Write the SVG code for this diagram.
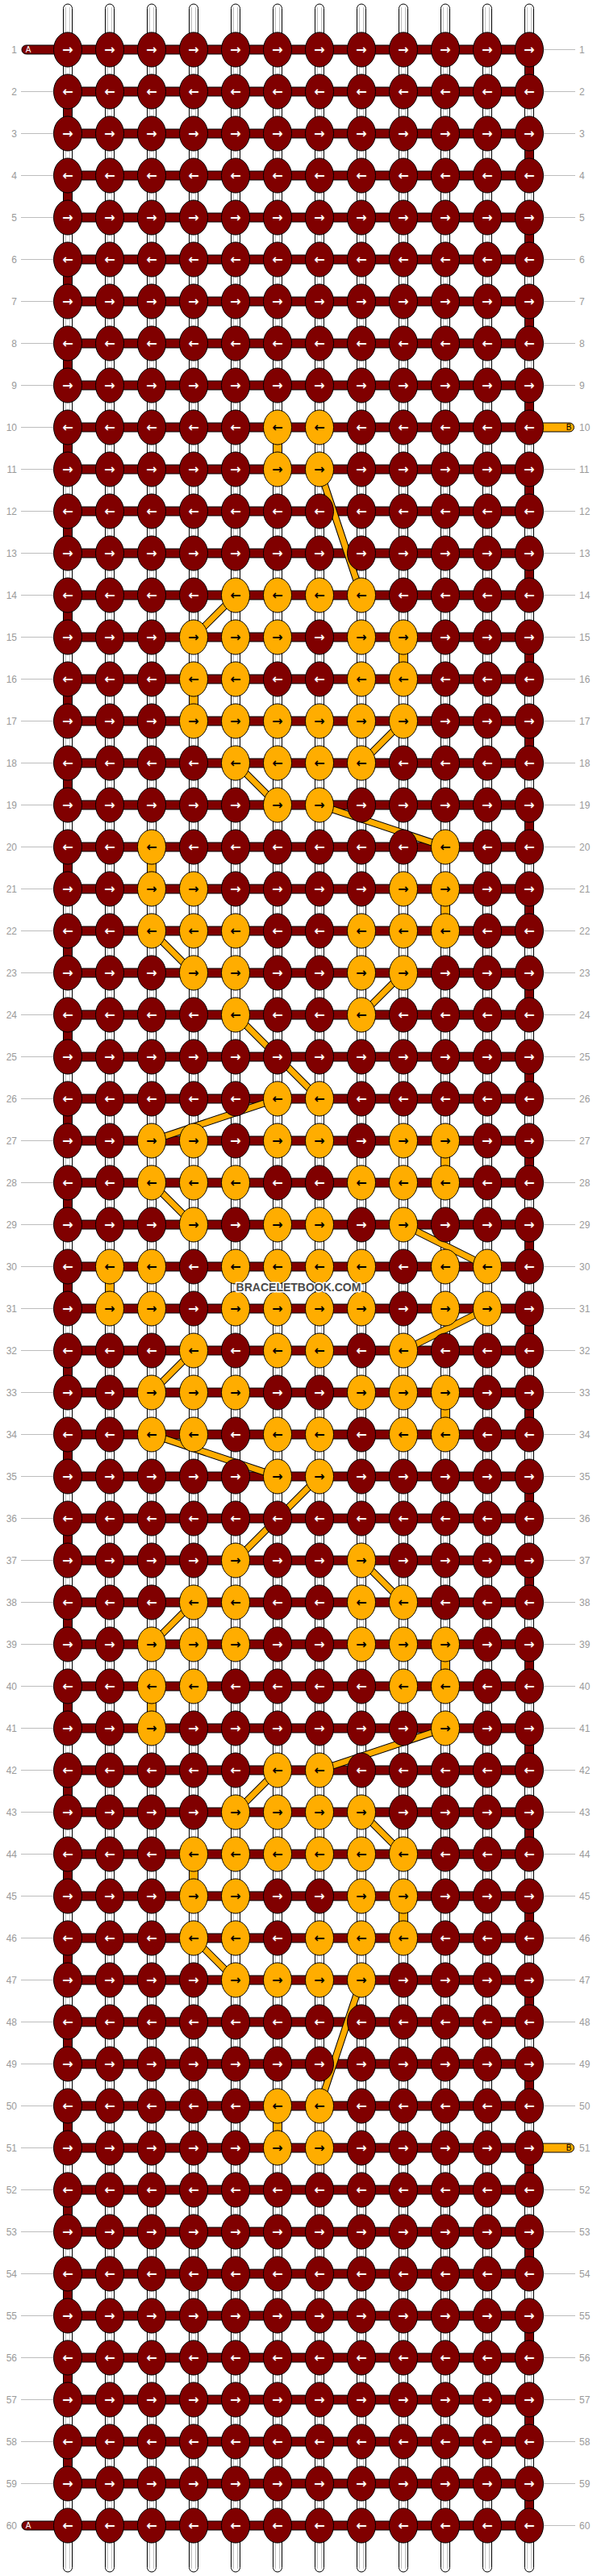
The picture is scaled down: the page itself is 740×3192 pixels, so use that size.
<svg xmlns="http://www.w3.org/2000/svg" width="740" height="3192" viewBox="0 0 740 3192">
<style>
.n{font-family:"Liberation Sans",Arial,sans-serif;font-size:12px;fill:#9a9a9a}
.nl{text-anchor:end}
.g{stroke:#bdbdbd;stroke-width:1;fill:none}
.st{fill:#fff;stroke:#000;stroke-width:1}
.il{stroke:#c4c4c4;stroke-width:1;fill:none}
.red{fill:#800000;stroke:#000;stroke-width:1}
.yel{fill:#ffad00;stroke:#000;stroke-width:1}
.lab{font-family:"Liberation Sans",Arial,sans-serif;font-size:10px;text-anchor:middle}
</style>
<defs>
<g id="a"><ellipse rx="17.5" ry="21.5" fill="#800000" stroke="#000"/><text y="5.5" fill="#fff" font-family="DejaVu Sans,sans-serif" font-size="16" font-weight="bold" text-anchor="middle">→</text></g>
<g id="b"><ellipse rx="17.5" ry="21.5" fill="#800000" stroke="#000"/><text y="5.5" fill="#fff" font-family="DejaVu Sans,sans-serif" font-size="16" font-weight="bold" text-anchor="middle">←</text></g>
<g id="c"><ellipse rx="17.5" ry="21.5" fill="#ffad00" stroke="#000"/><text y="5.5" fill="#000" font-family="DejaVu Sans,sans-serif" font-size="16" font-weight="bold" text-anchor="middle">→</text></g>
<g id="d"><ellipse rx="17.5" ry="21.5" fill="#ffad00" stroke="#000"/><text y="5.5" fill="#000" font-family="DejaVu Sans,sans-serif" font-size="16" font-weight="bold" text-anchor="middle">←</text></g>
</defs>
<rect width="740" height="3192" fill="#fff"/>
<g id="strings">
<rect class="st" x="78.5" y="5" width="11" height="3182" rx="5.5"/>
<rect class="st" x="130.5" y="5" width="11" height="3182" rx="5.5"/>
<rect class="st" x="182.5" y="5" width="11" height="3182" rx="5.5"/>
<rect class="st" x="234.5" y="5" width="11" height="3182" rx="5.5"/>
<rect class="st" x="286.5" y="5" width="11" height="3182" rx="5.5"/>
<rect class="st" x="338.5" y="5" width="11" height="3182" rx="5.5"/>
<rect class="st" x="390.5" y="5" width="11" height="3182" rx="5.5"/>
<rect class="st" x="442.5" y="5" width="11" height="3182" rx="5.5"/>
<rect class="st" x="494.5" y="5" width="11" height="3182" rx="5.5"/>
<rect class="st" x="546.5" y="5" width="11" height="3182" rx="5.5"/>
<rect class="st" x="598.5" y="5" width="11" height="3182" rx="5.5"/>
<rect class="st" x="650.5" y="5" width="11" height="3182" rx="5.5"/>
<path class="il" d="M81.5 9V3183M86.5 9V3183M133.5 9V3183M138.5 9V3183M185.5 9V3183M190.5 9V3183M237.5 9V3183M242.5 9V3183M289.5 9V3183M294.5 9V3183M341.5 9V3183M346.5 9V3183M393.5 9V3183M398.5 9V3183M445.5 9V3183M450.5 9V3183M497.5 9V3183M502.5 9V3183M549.5 9V3183M554.5 9V3183M601.5 9V3183M606.5 9V3183M653.5 9V3183M658.5 9V3183"/>
</g>
<g id="connectors">
<path class="red" d="M650.5 61.5h11v52h-11zM650.5 165.5h11v52h-11zM650.5 269.5h11v52h-11zM650.5 373.5h11v52h-11zM650.5 477.5h11v52h-11zM650.5 581.5h11v52h-11zM650.5 685.5h11v52h-11zM650.5 789.5h11v52h-11zM650.5 893.5h11v52h-11zM650.5 997.5h11v52h-11zM650.5 1101.5h11v52h-11zM650.5 1205.5h11v52h-11zM650.5 1309.5h11v52h-11zM650.5 1413.5h11v52h-11zM650.5 1517.5h11v52h-11zM650.5 1621.5h11v52h-11zM650.5 1725.5h11v52h-11zM650.5 1829.5h11v52h-11zM650.5 1933.5h11v52h-11zM650.5 2037.5h11v52h-11zM650.5 2141.5h11v52h-11zM650.5 2245.5h11v52h-11zM650.5 2349.5h11v52h-11zM650.5 2453.5h11v52h-11zM650.5 2557.5h11v52h-11zM650.5 2661.5h11v52h-11zM650.5 2765.5h11v52h-11zM650.5 2869.5h11v52h-11zM650.5 2973.5h11v52h-11zM650.5 3077.5h11v52h-11zM78.5 113.5h11v52h-11zM78.5 217.5h11v52h-11zM78.5 321.5h11v52h-11zM78.5 425.5h11v52h-11zM78.5 529.5h11v52h-11zM78.5 633.5h11v52h-11zM78.5 737.5h11v52h-11zM78.5 841.5h11v52h-11zM78.5 945.5h11v52h-11zM78.5 1049.5h11v52h-11zM78.5 1153.5h11v52h-11zM78.5 1257.5h11v52h-11zM78.5 1361.5h11v52h-11zM78.5 1465.5h11v52h-11zM78.5 1569.5h11v52h-11zM78.5 1673.5h11v52h-11zM78.5 1777.5h11v52h-11zM78.5 1881.5h11v52h-11zM78.5 1985.5h11v52h-11zM78.5 2089.5h11v52h-11zM78.5 2193.5h11v52h-11zM78.5 2297.5h11v52h-11zM78.5 2401.5h11v52h-11zM78.5 2505.5h11v52h-11zM78.5 2609.5h11v52h-11zM78.5 2713.5h11v52h-11zM78.5 2817.5h11v52h-11zM78.5 2921.5h11v52h-11zM78.5 3025.5h11v52h-11z"/>
<path class="yel" d="M338.5 529.5h11v52h-11zM494.5 789.5h11v52h-11zM234.5 841.5h11v52h-11zM182.5 1049.5h11v52h-11zM546.5 1101.5h11v52h-11zM546.5 1413.5h11v52h-11zM130.5 1569.5h11v52h-11zM546.5 1725.5h11v52h-11zM546.5 2037.5h11v52h-11zM182.5 2089.5h11v52h-11zM234.5 2297.5h11v52h-11zM494.5 2349.5h11v52h-11zM338.5 2609.5h11v52h-11z"/>
<rect class="red" x="27" y="56" width="70" height="11" rx="5.5"/>
<rect class="red" x="27" y="3124" width="70" height="11" rx="5.5"/>
<path class="red" d="M84 56h572v11H84zM84 108h572v11H84zM84 160h572v11H84zM84 212h572v11H84zM84 264h572v11H84zM84 316h572v11H84zM84 368h572v11H84zM84 420h572v11H84zM84 472h572v11H84zM84 524h572v11H84zM84 576h572v11H84zM84 628h572v11H84zM84 680h572v11H84zM84 732h572v11H84zM84 784h572v11H84zM84 836h572v11H84zM84 888h572v11H84zM84 940h572v11H84zM84 992h572v11H84zM84 1044h572v11H84zM84 1096h572v11H84zM84 1148h572v11H84zM84 1200h572v11H84zM84 1252h572v11H84zM84 1304h572v11H84zM84 1356h572v11H84zM84 1408h572v11H84zM84 1460h572v11H84zM84 1512h572v11H84zM84 1564h572v11H84zM84 1616h572v11H84zM84 1668h572v11H84zM84 1720h572v11H84zM84 1772h572v11H84zM84 1824h572v11H84zM84 1876h572v11H84zM84 1928h572v11H84zM84 1980h572v11H84zM84 2032h572v11H84zM84 2084h572v11H84zM84 2136h572v11H84zM84 2188h572v11H84zM84 2240h572v11H84zM84 2292h572v11H84zM84 2344h572v11H84zM84 2396h572v11H84zM84 2448h572v11H84zM84 2500h572v11H84zM84 2552h572v11H84zM84 2604h572v11H84zM84 2656h572v11H84zM84 2708h572v11H84zM84 2760h572v11H84zM84 2812h572v11H84zM84 2864h572v11H84zM84 2916h572v11H84zM84 2968h572v11H84zM84 3020h572v11H84zM84 3072h572v11H84zM84 3124h572v11H84z"/>
<rect class="yel" x="645" y="524" width="66.5" height="11" rx="5.5"/>
<rect class="yel" x="645" y="2656" width="66.5" height="11" rx="5.5"/>
<path fill="none" stroke="#000" stroke-width="9" d="M396 581.5L448 737.5M292 737.5L240 789.5M500 893.5L448 945.5M292 945.5L344 997.5M396 997.5L552 1049.5M188 1153.5L240 1205.5M500 1205.5L448 1257.5M292 1257.5L396 1361.5M344 1361.5L188 1413.5M188 1465.5L240 1517.5M500 1517.5L604 1569.5M604 1621.5L500 1673.5M240 1673.5L188 1725.5M188 1777.5L344 1829.5M396 1829.5L292 1933.5M448 1933.5L500 1985.5M240 1985.5L188 2037.5M552 2141.5L396 2193.5M344 2193.5L292 2245.5M448 2245.5L500 2297.5M240 2401.5L292 2453.5M448 2453.5L396 2609.5"/>
<path fill="none" stroke="#ffad00" stroke-width="7" d="M396 581.5L448 737.5M292 737.5L240 789.5M500 893.5L448 945.5M292 945.5L344 997.5M396 997.5L552 1049.5M188 1153.5L240 1205.5M500 1205.5L448 1257.5M292 1257.5L396 1361.5M344 1361.5L188 1413.5M188 1465.5L240 1517.5M500 1517.5L604 1569.5M604 1621.5L500 1673.5M240 1673.5L188 1725.5M188 1777.5L344 1829.5M396 1829.5L292 1933.5M448 1933.5L500 1985.5M240 1985.5L188 2037.5M552 2141.5L396 2193.5M344 2193.5L292 2245.5M448 2245.5L500 2297.5M240 2401.5L292 2453.5M448 2453.5L396 2609.5"/>
<path class="g" d="M26 113.5H66M26 165.5H66M26 217.5H66M26 269.5H66M26 321.5H66M26 373.5H66M26 425.5H66M26 477.5H66M26 529.5H66M26 581.5H66M26 633.5H66M26 685.5H66M26 737.5H66M26 789.5H66M26 841.5H66M26 893.5H66M26 945.5H66M26 997.5H66M26 1049.5H66M26 1101.5H66M26 1153.5H66M26 1205.5H66M26 1257.5H66M26 1309.5H66M26 1361.5H66M26 1413.5H66M26 1465.5H66M26 1517.5H66M26 1569.5H66M26 1621.5H66M26 1673.5H66M26 1725.5H66M26 1777.5H66M26 1829.5H66M26 1881.5H66M26 1933.5H66M26 1985.5H66M26 2037.5H66M26 2089.5H66M26 2141.5H66M26 2193.5H66M26 2245.5H66M26 2297.5H66M26 2349.5H66M26 2401.5H66M26 2453.5H66M26 2505.5H66M26 2557.5H66M26 2609.5H66M26 2661.5H66M26 2713.5H66M26 2765.5H66M26 2817.5H66M26 2869.5H66M26 2921.5H66M26 2973.5H66M26 3025.5H66M26 3077.5H66M674 61.5H713M674 113.5H713M674 165.5H713M674 217.5H713M674 269.5H713M674 321.5H713M674 373.5H713M674 425.5H713M674 477.5H713M674 581.5H713M674 633.5H713M674 685.5H713M674 737.5H713M674 789.5H713M674 841.5H713M674 893.5H713M674 945.5H713M674 997.5H713M674 1049.5H713M674 1101.5H713M674 1153.5H713M674 1205.5H713M674 1257.5H713M674 1309.5H713M674 1361.5H713M674 1413.5H713M674 1465.5H713M674 1517.5H713M674 1569.5H713M674 1621.5H713M674 1673.5H713M674 1725.5H713M674 1777.5H713M674 1829.5H713M674 1881.5H713M674 1933.5H713M674 1985.5H713M674 2037.5H713M674 2089.5H713M674 2141.5H713M674 2193.5H713M674 2245.5H713M674 2297.5H713M674 2349.5H713M674 2401.5H713M674 2453.5H713M674 2505.5H713M674 2557.5H713M674 2609.5H713M674 2713.5H713M674 2765.5H713M674 2817.5H713M674 2869.5H713M674 2921.5H713M674 2973.5H713M674 3025.5H713M674 3077.5H713M674 3129.5H713"/>
</g>
<g id="ends">
<text class="lab" x="35" y="65" fill="#fff">A</text>
<text class="lab" x="35" y="3133" fill="#fff">A</text>
<text class="lab" x="705" y="533" fill="#000">B</text>
<text class="lab" x="705" y="2665" fill="#000">B</text>
</g>
<g id="knots">
<g id="row1" transform="translate(0 61.5)"><use href="#a" x="84"/><use href="#a" x="136"/><use href="#a" x="188"/><use href="#a" x="240"/><use href="#a" x="292"/><use href="#a" x="344"/><use href="#a" x="396"/><use href="#a" x="448"/><use href="#a" x="500"/><use href="#a" x="552"/><use href="#a" x="604"/><use href="#a" x="656"/></g>
<g id="row2" transform="translate(0 113.5)"><use href="#b" x="84"/><use href="#b" x="136"/><use href="#b" x="188"/><use href="#b" x="240"/><use href="#b" x="292"/><use href="#b" x="344"/><use href="#b" x="396"/><use href="#b" x="448"/><use href="#b" x="500"/><use href="#b" x="552"/><use href="#b" x="604"/><use href="#b" x="656"/></g>
<g id="row3" transform="translate(0 165.5)"><use href="#a" x="84"/><use href="#a" x="136"/><use href="#a" x="188"/><use href="#a" x="240"/><use href="#a" x="292"/><use href="#a" x="344"/><use href="#a" x="396"/><use href="#a" x="448"/><use href="#a" x="500"/><use href="#a" x="552"/><use href="#a" x="604"/><use href="#a" x="656"/></g>
<g id="row4" transform="translate(0 217.5)"><use href="#b" x="84"/><use href="#b" x="136"/><use href="#b" x="188"/><use href="#b" x="240"/><use href="#b" x="292"/><use href="#b" x="344"/><use href="#b" x="396"/><use href="#b" x="448"/><use href="#b" x="500"/><use href="#b" x="552"/><use href="#b" x="604"/><use href="#b" x="656"/></g>
<g id="row5" transform="translate(0 269.5)"><use href="#a" x="84"/><use href="#a" x="136"/><use href="#a" x="188"/><use href="#a" x="240"/><use href="#a" x="292"/><use href="#a" x="344"/><use href="#a" x="396"/><use href="#a" x="448"/><use href="#a" x="500"/><use href="#a" x="552"/><use href="#a" x="604"/><use href="#a" x="656"/></g>
<g id="row6" transform="translate(0 321.5)"><use href="#b" x="84"/><use href="#b" x="136"/><use href="#b" x="188"/><use href="#b" x="240"/><use href="#b" x="292"/><use href="#b" x="344"/><use href="#b" x="396"/><use href="#b" x="448"/><use href="#b" x="500"/><use href="#b" x="552"/><use href="#b" x="604"/><use href="#b" x="656"/></g>
<g id="row7" transform="translate(0 373.5)"><use href="#a" x="84"/><use href="#a" x="136"/><use href="#a" x="188"/><use href="#a" x="240"/><use href="#a" x="292"/><use href="#a" x="344"/><use href="#a" x="396"/><use href="#a" x="448"/><use href="#a" x="500"/><use href="#a" x="552"/><use href="#a" x="604"/><use href="#a" x="656"/></g>
<g id="row8" transform="translate(0 425.5)"><use href="#b" x="84"/><use href="#b" x="136"/><use href="#b" x="188"/><use href="#b" x="240"/><use href="#b" x="292"/><use href="#b" x="344"/><use href="#b" x="396"/><use href="#b" x="448"/><use href="#b" x="500"/><use href="#b" x="552"/><use href="#b" x="604"/><use href="#b" x="656"/></g>
<g id="row9" transform="translate(0 477.5)"><use href="#a" x="84"/><use href="#a" x="136"/><use href="#a" x="188"/><use href="#a" x="240"/><use href="#a" x="292"/><use href="#a" x="344"/><use href="#a" x="396"/><use href="#a" x="448"/><use href="#a" x="500"/><use href="#a" x="552"/><use href="#a" x="604"/><use href="#a" x="656"/></g>
<g id="row10" transform="translate(0 529.5)"><use href="#b" x="84"/><use href="#b" x="136"/><use href="#b" x="188"/><use href="#b" x="240"/><use href="#b" x="292"/><use href="#d" x="344"/><use href="#d" x="396"/><use href="#b" x="448"/><use href="#b" x="500"/><use href="#b" x="552"/><use href="#b" x="604"/><use href="#b" x="656"/></g>
<g id="row11" transform="translate(0 581.5)"><use href="#a" x="84"/><use href="#a" x="136"/><use href="#a" x="188"/><use href="#a" x="240"/><use href="#a" x="292"/><use href="#c" x="344"/><use href="#c" x="396"/><use href="#a" x="448"/><use href="#a" x="500"/><use href="#a" x="552"/><use href="#a" x="604"/><use href="#a" x="656"/></g>
<g id="row12" transform="translate(0 633.5)"><use href="#b" x="84"/><use href="#b" x="136"/><use href="#b" x="188"/><use href="#b" x="240"/><use href="#b" x="292"/><use href="#b" x="344"/><use href="#b" x="396"/><use href="#b" x="448"/><use href="#b" x="500"/><use href="#b" x="552"/><use href="#b" x="604"/><use href="#b" x="656"/></g>
<g id="row13" transform="translate(0 685.5)"><use href="#a" x="84"/><use href="#a" x="136"/><use href="#a" x="188"/><use href="#a" x="240"/><use href="#a" x="292"/><use href="#a" x="344"/><use href="#a" x="396"/><use href="#a" x="448"/><use href="#a" x="500"/><use href="#a" x="552"/><use href="#a" x="604"/><use href="#a" x="656"/></g>
<g id="row14" transform="translate(0 737.5)"><use href="#b" x="84"/><use href="#b" x="136"/><use href="#b" x="188"/><use href="#b" x="240"/><use href="#d" x="292"/><use href="#d" x="344"/><use href="#d" x="396"/><use href="#d" x="448"/><use href="#b" x="500"/><use href="#b" x="552"/><use href="#b" x="604"/><use href="#b" x="656"/></g>
<g id="row15" transform="translate(0 789.5)"><use href="#a" x="84"/><use href="#a" x="136"/><use href="#a" x="188"/><use href="#c" x="240"/><use href="#c" x="292"/><use href="#c" x="344"/><use href="#a" x="396"/><use href="#c" x="448"/><use href="#c" x="500"/><use href="#a" x="552"/><use href="#a" x="604"/><use href="#a" x="656"/></g>
<g id="row16" transform="translate(0 841.5)"><use href="#b" x="84"/><use href="#b" x="136"/><use href="#b" x="188"/><use href="#d" x="240"/><use href="#d" x="292"/><use href="#b" x="344"/><use href="#b" x="396"/><use href="#d" x="448"/><use href="#d" x="500"/><use href="#b" x="552"/><use href="#b" x="604"/><use href="#b" x="656"/></g>
<g id="row17" transform="translate(0 893.5)"><use href="#a" x="84"/><use href="#a" x="136"/><use href="#a" x="188"/><use href="#c" x="240"/><use href="#c" x="292"/><use href="#c" x="344"/><use href="#c" x="396"/><use href="#c" x="448"/><use href="#c" x="500"/><use href="#a" x="552"/><use href="#a" x="604"/><use href="#a" x="656"/></g>
<g id="row18" transform="translate(0 945.5)"><use href="#b" x="84"/><use href="#b" x="136"/><use href="#b" x="188"/><use href="#b" x="240"/><use href="#d" x="292"/><use href="#d" x="344"/><use href="#d" x="396"/><use href="#d" x="448"/><use href="#b" x="500"/><use href="#b" x="552"/><use href="#b" x="604"/><use href="#b" x="656"/></g>
<g id="row19" transform="translate(0 997.5)"><use href="#a" x="84"/><use href="#a" x="136"/><use href="#a" x="188"/><use href="#a" x="240"/><use href="#a" x="292"/><use href="#c" x="344"/><use href="#c" x="396"/><use href="#a" x="448"/><use href="#a" x="500"/><use href="#a" x="552"/><use href="#a" x="604"/><use href="#a" x="656"/></g>
<g id="row20" transform="translate(0 1049.5)"><use href="#b" x="84"/><use href="#b" x="136"/><use href="#d" x="188"/><use href="#b" x="240"/><use href="#b" x="292"/><use href="#b" x="344"/><use href="#b" x="396"/><use href="#b" x="448"/><use href="#b" x="500"/><use href="#d" x="552"/><use href="#b" x="604"/><use href="#b" x="656"/></g>
<g id="row21" transform="translate(0 1101.5)"><use href="#a" x="84"/><use href="#a" x="136"/><use href="#c" x="188"/><use href="#c" x="240"/><use href="#a" x="292"/><use href="#a" x="344"/><use href="#a" x="396"/><use href="#a" x="448"/><use href="#c" x="500"/><use href="#c" x="552"/><use href="#a" x="604"/><use href="#a" x="656"/></g>
<g id="row22" transform="translate(0 1153.5)"><use href="#b" x="84"/><use href="#b" x="136"/><use href="#d" x="188"/><use href="#d" x="240"/><use href="#d" x="292"/><use href="#b" x="344"/><use href="#b" x="396"/><use href="#d" x="448"/><use href="#d" x="500"/><use href="#d" x="552"/><use href="#b" x="604"/><use href="#b" x="656"/></g>
<g id="row23" transform="translate(0 1205.5)"><use href="#a" x="84"/><use href="#a" x="136"/><use href="#a" x="188"/><use href="#c" x="240"/><use href="#c" x="292"/><use href="#a" x="344"/><use href="#a" x="396"/><use href="#c" x="448"/><use href="#c" x="500"/><use href="#a" x="552"/><use href="#a" x="604"/><use href="#a" x="656"/></g>
<g id="row24" transform="translate(0 1257.5)"><use href="#b" x="84"/><use href="#b" x="136"/><use href="#b" x="188"/><use href="#b" x="240"/><use href="#d" x="292"/><use href="#b" x="344"/><use href="#b" x="396"/><use href="#d" x="448"/><use href="#b" x="500"/><use href="#b" x="552"/><use href="#b" x="604"/><use href="#b" x="656"/></g>
<g id="row25" transform="translate(0 1309.5)"><use href="#a" x="84"/><use href="#a" x="136"/><use href="#a" x="188"/><use href="#a" x="240"/><use href="#a" x="292"/><use href="#a" x="344"/><use href="#a" x="396"/><use href="#a" x="448"/><use href="#a" x="500"/><use href="#a" x="552"/><use href="#a" x="604"/><use href="#a" x="656"/></g>
<g id="row26" transform="translate(0 1361.5)"><use href="#b" x="84"/><use href="#b" x="136"/><use href="#b" x="188"/><use href="#b" x="240"/><use href="#b" x="292"/><use href="#d" x="344"/><use href="#d" x="396"/><use href="#b" x="448"/><use href="#b" x="500"/><use href="#b" x="552"/><use href="#b" x="604"/><use href="#b" x="656"/></g>
<g id="row27" transform="translate(0 1413.5)"><use href="#a" x="84"/><use href="#a" x="136"/><use href="#c" x="188"/><use href="#c" x="240"/><use href="#a" x="292"/><use href="#c" x="344"/><use href="#c" x="396"/><use href="#a" x="448"/><use href="#c" x="500"/><use href="#c" x="552"/><use href="#a" x="604"/><use href="#a" x="656"/></g>
<g id="row28" transform="translate(0 1465.5)"><use href="#b" x="84"/><use href="#b" x="136"/><use href="#d" x="188"/><use href="#d" x="240"/><use href="#d" x="292"/><use href="#b" x="344"/><use href="#b" x="396"/><use href="#d" x="448"/><use href="#d" x="500"/><use href="#d" x="552"/><use href="#b" x="604"/><use href="#b" x="656"/></g>
<g id="row29" transform="translate(0 1517.5)"><use href="#a" x="84"/><use href="#a" x="136"/><use href="#a" x="188"/><use href="#c" x="240"/><use href="#a" x="292"/><use href="#c" x="344"/><use href="#c" x="396"/><use href="#a" x="448"/><use href="#c" x="500"/><use href="#a" x="552"/><use href="#a" x="604"/><use href="#a" x="656"/></g>
<g id="row30" transform="translate(0 1569.5)"><use href="#b" x="84"/><use href="#d" x="136"/><use href="#d" x="188"/><use href="#b" x="240"/><use href="#d" x="292"/><use href="#d" x="344"/><use href="#d" x="396"/><use href="#d" x="448"/><use href="#b" x="500"/><use href="#d" x="552"/><use href="#d" x="604"/><use href="#b" x="656"/></g>
<g id="row31" transform="translate(0 1621.5)"><use href="#a" x="84"/><use href="#c" x="136"/><use href="#c" x="188"/><use href="#a" x="240"/><use href="#c" x="292"/><use href="#c" x="344"/><use href="#c" x="396"/><use href="#c" x="448"/><use href="#a" x="500"/><use href="#c" x="552"/><use href="#c" x="604"/><use href="#a" x="656"/></g>
<g id="row32" transform="translate(0 1673.5)"><use href="#b" x="84"/><use href="#b" x="136"/><use href="#b" x="188"/><use href="#d" x="240"/><use href="#b" x="292"/><use href="#d" x="344"/><use href="#d" x="396"/><use href="#b" x="448"/><use href="#d" x="500"/><use href="#b" x="552"/><use href="#b" x="604"/><use href="#b" x="656"/></g>
<g id="row33" transform="translate(0 1725.5)"><use href="#a" x="84"/><use href="#a" x="136"/><use href="#c" x="188"/><use href="#c" x="240"/><use href="#c" x="292"/><use href="#a" x="344"/><use href="#a" x="396"/><use href="#c" x="448"/><use href="#c" x="500"/><use href="#c" x="552"/><use href="#a" x="604"/><use href="#a" x="656"/></g>
<g id="row34" transform="translate(0 1777.5)"><use href="#b" x="84"/><use href="#b" x="136"/><use href="#d" x="188"/><use href="#d" x="240"/><use href="#b" x="292"/><use href="#d" x="344"/><use href="#d" x="396"/><use href="#b" x="448"/><use href="#d" x="500"/><use href="#d" x="552"/><use href="#b" x="604"/><use href="#b" x="656"/></g>
<g id="row35" transform="translate(0 1829.5)"><use href="#a" x="84"/><use href="#a" x="136"/><use href="#a" x="188"/><use href="#a" x="240"/><use href="#a" x="292"/><use href="#c" x="344"/><use href="#c" x="396"/><use href="#a" x="448"/><use href="#a" x="500"/><use href="#a" x="552"/><use href="#a" x="604"/><use href="#a" x="656"/></g>
<g id="row36" transform="translate(0 1881.5)"><use href="#b" x="84"/><use href="#b" x="136"/><use href="#b" x="188"/><use href="#b" x="240"/><use href="#b" x="292"/><use href="#b" x="344"/><use href="#b" x="396"/><use href="#b" x="448"/><use href="#b" x="500"/><use href="#b" x="552"/><use href="#b" x="604"/><use href="#b" x="656"/></g>
<g id="row37" transform="translate(0 1933.5)"><use href="#a" x="84"/><use href="#a" x="136"/><use href="#a" x="188"/><use href="#a" x="240"/><use href="#c" x="292"/><use href="#a" x="344"/><use href="#a" x="396"/><use href="#c" x="448"/><use href="#a" x="500"/><use href="#a" x="552"/><use href="#a" x="604"/><use href="#a" x="656"/></g>
<g id="row38" transform="translate(0 1985.5)"><use href="#b" x="84"/><use href="#b" x="136"/><use href="#b" x="188"/><use href="#d" x="240"/><use href="#d" x="292"/><use href="#b" x="344"/><use href="#b" x="396"/><use href="#d" x="448"/><use href="#d" x="500"/><use href="#b" x="552"/><use href="#b" x="604"/><use href="#b" x="656"/></g>
<g id="row39" transform="translate(0 2037.5)"><use href="#a" x="84"/><use href="#a" x="136"/><use href="#c" x="188"/><use href="#c" x="240"/><use href="#c" x="292"/><use href="#a" x="344"/><use href="#a" x="396"/><use href="#c" x="448"/><use href="#c" x="500"/><use href="#c" x="552"/><use href="#a" x="604"/><use href="#a" x="656"/></g>
<g id="row40" transform="translate(0 2089.5)"><use href="#b" x="84"/><use href="#b" x="136"/><use href="#d" x="188"/><use href="#d" x="240"/><use href="#b" x="292"/><use href="#b" x="344"/><use href="#b" x="396"/><use href="#b" x="448"/><use href="#d" x="500"/><use href="#d" x="552"/><use href="#b" x="604"/><use href="#b" x="656"/></g>
<g id="row41" transform="translate(0 2141.5)"><use href="#a" x="84"/><use href="#a" x="136"/><use href="#c" x="188"/><use href="#a" x="240"/><use href="#a" x="292"/><use href="#a" x="344"/><use href="#a" x="396"/><use href="#a" x="448"/><use href="#a" x="500"/><use href="#c" x="552"/><use href="#a" x="604"/><use href="#a" x="656"/></g>
<g id="row42" transform="translate(0 2193.5)"><use href="#b" x="84"/><use href="#b" x="136"/><use href="#b" x="188"/><use href="#b" x="240"/><use href="#b" x="292"/><use href="#d" x="344"/><use href="#d" x="396"/><use href="#b" x="448"/><use href="#b" x="500"/><use href="#b" x="552"/><use href="#b" x="604"/><use href="#b" x="656"/></g>
<g id="row43" transform="translate(0 2245.5)"><use href="#a" x="84"/><use href="#a" x="136"/><use href="#a" x="188"/><use href="#a" x="240"/><use href="#c" x="292"/><use href="#c" x="344"/><use href="#c" x="396"/><use href="#c" x="448"/><use href="#a" x="500"/><use href="#a" x="552"/><use href="#a" x="604"/><use href="#a" x="656"/></g>
<g id="row44" transform="translate(0 2297.5)"><use href="#b" x="84"/><use href="#b" x="136"/><use href="#b" x="188"/><use href="#d" x="240"/><use href="#d" x="292"/><use href="#d" x="344"/><use href="#d" x="396"/><use href="#d" x="448"/><use href="#d" x="500"/><use href="#b" x="552"/><use href="#b" x="604"/><use href="#b" x="656"/></g>
<g id="row45" transform="translate(0 2349.5)"><use href="#a" x="84"/><use href="#a" x="136"/><use href="#a" x="188"/><use href="#c" x="240"/><use href="#c" x="292"/><use href="#a" x="344"/><use href="#a" x="396"/><use href="#c" x="448"/><use href="#c" x="500"/><use href="#a" x="552"/><use href="#a" x="604"/><use href="#a" x="656"/></g>
<g id="row46" transform="translate(0 2401.5)"><use href="#b" x="84"/><use href="#b" x="136"/><use href="#b" x="188"/><use href="#d" x="240"/><use href="#d" x="292"/><use href="#b" x="344"/><use href="#d" x="396"/><use href="#d" x="448"/><use href="#d" x="500"/><use href="#b" x="552"/><use href="#b" x="604"/><use href="#b" x="656"/></g>
<g id="row47" transform="translate(0 2453.5)"><use href="#a" x="84"/><use href="#a" x="136"/><use href="#a" x="188"/><use href="#a" x="240"/><use href="#c" x="292"/><use href="#c" x="344"/><use href="#c" x="396"/><use href="#c" x="448"/><use href="#a" x="500"/><use href="#a" x="552"/><use href="#a" x="604"/><use href="#a" x="656"/></g>
<g id="row48" transform="translate(0 2505.5)"><use href="#b" x="84"/><use href="#b" x="136"/><use href="#b" x="188"/><use href="#b" x="240"/><use href="#b" x="292"/><use href="#b" x="344"/><use href="#b" x="396"/><use href="#b" x="448"/><use href="#b" x="500"/><use href="#b" x="552"/><use href="#b" x="604"/><use href="#b" x="656"/></g>
<g id="row49" transform="translate(0 2557.5)"><use href="#a" x="84"/><use href="#a" x="136"/><use href="#a" x="188"/><use href="#a" x="240"/><use href="#a" x="292"/><use href="#a" x="344"/><use href="#a" x="396"/><use href="#a" x="448"/><use href="#a" x="500"/><use href="#a" x="552"/><use href="#a" x="604"/><use href="#a" x="656"/></g>
<g id="row50" transform="translate(0 2609.5)"><use href="#b" x="84"/><use href="#b" x="136"/><use href="#b" x="188"/><use href="#b" x="240"/><use href="#b" x="292"/><use href="#d" x="344"/><use href="#d" x="396"/><use href="#b" x="448"/><use href="#b" x="500"/><use href="#b" x="552"/><use href="#b" x="604"/><use href="#b" x="656"/></g>
<g id="row51" transform="translate(0 2661.5)"><use href="#a" x="84"/><use href="#a" x="136"/><use href="#a" x="188"/><use href="#a" x="240"/><use href="#a" x="292"/><use href="#c" x="344"/><use href="#c" x="396"/><use href="#a" x="448"/><use href="#a" x="500"/><use href="#a" x="552"/><use href="#a" x="604"/><use href="#a" x="656"/></g>
<g id="row52" transform="translate(0 2713.5)"><use href="#b" x="84"/><use href="#b" x="136"/><use href="#b" x="188"/><use href="#b" x="240"/><use href="#b" x="292"/><use href="#b" x="344"/><use href="#b" x="396"/><use href="#b" x="448"/><use href="#b" x="500"/><use href="#b" x="552"/><use href="#b" x="604"/><use href="#b" x="656"/></g>
<g id="row53" transform="translate(0 2765.5)"><use href="#a" x="84"/><use href="#a" x="136"/><use href="#a" x="188"/><use href="#a" x="240"/><use href="#a" x="292"/><use href="#a" x="344"/><use href="#a" x="396"/><use href="#a" x="448"/><use href="#a" x="500"/><use href="#a" x="552"/><use href="#a" x="604"/><use href="#a" x="656"/></g>
<g id="row54" transform="translate(0 2817.5)"><use href="#b" x="84"/><use href="#b" x="136"/><use href="#b" x="188"/><use href="#b" x="240"/><use href="#b" x="292"/><use href="#b" x="344"/><use href="#b" x="396"/><use href="#b" x="448"/><use href="#b" x="500"/><use href="#b" x="552"/><use href="#b" x="604"/><use href="#b" x="656"/></g>
<g id="row55" transform="translate(0 2869.5)"><use href="#a" x="84"/><use href="#a" x="136"/><use href="#a" x="188"/><use href="#a" x="240"/><use href="#a" x="292"/><use href="#a" x="344"/><use href="#a" x="396"/><use href="#a" x="448"/><use href="#a" x="500"/><use href="#a" x="552"/><use href="#a" x="604"/><use href="#a" x="656"/></g>
<g id="row56" transform="translate(0 2921.5)"><use href="#b" x="84"/><use href="#b" x="136"/><use href="#b" x="188"/><use href="#b" x="240"/><use href="#b" x="292"/><use href="#b" x="344"/><use href="#b" x="396"/><use href="#b" x="448"/><use href="#b" x="500"/><use href="#b" x="552"/><use href="#b" x="604"/><use href="#b" x="656"/></g>
<g id="row57" transform="translate(0 2973.5)"><use href="#a" x="84"/><use href="#a" x="136"/><use href="#a" x="188"/><use href="#a" x="240"/><use href="#a" x="292"/><use href="#a" x="344"/><use href="#a" x="396"/><use href="#a" x="448"/><use href="#a" x="500"/><use href="#a" x="552"/><use href="#a" x="604"/><use href="#a" x="656"/></g>
<g id="row58" transform="translate(0 3025.5)"><use href="#b" x="84"/><use href="#b" x="136"/><use href="#b" x="188"/><use href="#b" x="240"/><use href="#b" x="292"/><use href="#b" x="344"/><use href="#b" x="396"/><use href="#b" x="448"/><use href="#b" x="500"/><use href="#b" x="552"/><use href="#b" x="604"/><use href="#b" x="656"/></g>
<g id="row59" transform="translate(0 3077.5)"><use href="#a" x="84"/><use href="#a" x="136"/><use href="#a" x="188"/><use href="#a" x="240"/><use href="#a" x="292"/><use href="#a" x="344"/><use href="#a" x="396"/><use href="#a" x="448"/><use href="#a" x="500"/><use href="#a" x="552"/><use href="#a" x="604"/><use href="#a" x="656"/></g>
<g id="row60" transform="translate(0 3129.5)"><use href="#b" x="84"/><use href="#b" x="136"/><use href="#b" x="188"/><use href="#b" x="240"/><use href="#b" x="292"/><use href="#b" x="344"/><use href="#b" x="396"/><use href="#b" x="448"/><use href="#b" x="500"/><use href="#b" x="552"/><use href="#b" x="604"/><use href="#b" x="656"/></g>
</g>
<g id="row-numbers">
<g class="n nl"><text x="21" y="66">1</text><text x="21" y="118">2</text><text x="21" y="170">3</text><text x="21" y="222">4</text><text x="21" y="274">5</text><text x="21" y="326">6</text><text x="21" y="378">7</text><text x="21" y="430">8</text><text x="21" y="482">9</text><text x="21" y="534">10</text><text x="21" y="586">11</text><text x="21" y="638">12</text><text x="21" y="690">13</text><text x="21" y="742">14</text><text x="21" y="794">15</text><text x="21" y="846">16</text><text x="21" y="898">17</text><text x="21" y="950">18</text><text x="21" y="1002">19</text><text x="21" y="1054">20</text><text x="21" y="1106">21</text><text x="21" y="1158">22</text><text x="21" y="1210">23</text><text x="21" y="1262">24</text><text x="21" y="1314">25</text><text x="21" y="1366">26</text><text x="21" y="1418">27</text><text x="21" y="1470">28</text><text x="21" y="1522">29</text><text x="21" y="1574">30</text><text x="21" y="1626">31</text><text x="21" y="1678">32</text><text x="21" y="1730">33</text><text x="21" y="1782">34</text><text x="21" y="1834">35</text><text x="21" y="1886">36</text><text x="21" y="1938">37</text><text x="21" y="1990">38</text><text x="21" y="2042">39</text><text x="21" y="2094">40</text><text x="21" y="2146">41</text><text x="21" y="2198">42</text><text x="21" y="2250">43</text><text x="21" y="2302">44</text><text x="21" y="2354">45</text><text x="21" y="2406">46</text><text x="21" y="2458">47</text><text x="21" y="2510">48</text><text x="21" y="2562">49</text><text x="21" y="2614">50</text><text x="21" y="2666">51</text><text x="21" y="2718">52</text><text x="21" y="2770">53</text><text x="21" y="2822">54</text><text x="21" y="2874">55</text><text x="21" y="2926">56</text><text x="21" y="2978">57</text><text x="21" y="3030">58</text><text x="21" y="3082">59</text><text x="21" y="3134">60</text></g>
<g class="n"><text x="718" y="66">1</text><text x="718" y="118">2</text><text x="718" y="170">3</text><text x="718" y="222">4</text><text x="718" y="274">5</text><text x="718" y="326">6</text><text x="718" y="378">7</text><text x="718" y="430">8</text><text x="718" y="482">9</text><text x="718" y="534">10</text><text x="718" y="586">11</text><text x="718" y="638">12</text><text x="718" y="690">13</text><text x="718" y="742">14</text><text x="718" y="794">15</text><text x="718" y="846">16</text><text x="718" y="898">17</text><text x="718" y="950">18</text><text x="718" y="1002">19</text><text x="718" y="1054">20</text><text x="718" y="1106">21</text><text x="718" y="1158">22</text><text x="718" y="1210">23</text><text x="718" y="1262">24</text><text x="718" y="1314">25</text><text x="718" y="1366">26</text><text x="718" y="1418">27</text><text x="718" y="1470">28</text><text x="718" y="1522">29</text><text x="718" y="1574">30</text><text x="718" y="1626">31</text><text x="718" y="1678">32</text><text x="718" y="1730">33</text><text x="718" y="1782">34</text><text x="718" y="1834">35</text><text x="718" y="1886">36</text><text x="718" y="1938">37</text><text x="718" y="1990">38</text><text x="718" y="2042">39</text><text x="718" y="2094">40</text><text x="718" y="2146">41</text><text x="718" y="2198">42</text><text x="718" y="2250">43</text><text x="718" y="2302">44</text><text x="718" y="2354">45</text><text x="718" y="2406">46</text><text x="718" y="2458">47</text><text x="718" y="2510">48</text><text x="718" y="2562">49</text><text x="718" y="2614">50</text><text x="718" y="2666">51</text><text x="718" y="2718">52</text><text x="718" y="2770">53</text><text x="718" y="2822">54</text><text x="718" y="2874">55</text><text x="718" y="2926">56</text><text x="718" y="2978">57</text><text x="718" y="3030">58</text><text x="718" y="3082">59</text><text x="718" y="3134">60</text></g>
</g>
<text x="370" y="1600" font-family="Liberation Sans,Arial,sans-serif" font-size="14" font-weight="bold" text-anchor="middle" fill="#4a4a4a" stroke="#fff" stroke-width="3" paint-order="stroke" stroke-linejoin="round">BRACELETBOOK.COM</text>
</svg>
